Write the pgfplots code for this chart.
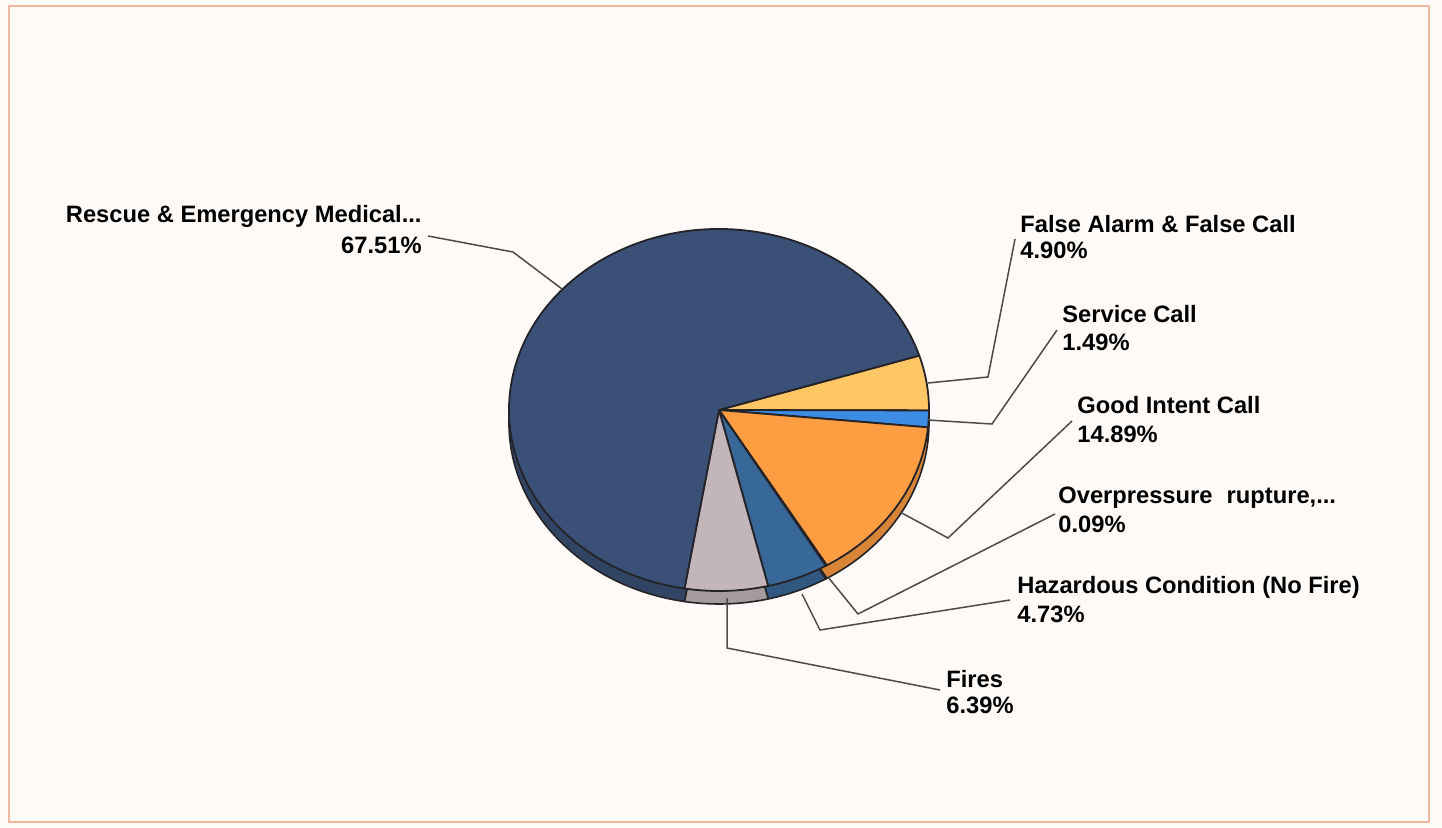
\documentclass[border=0pt]{standalone}
\usepackage{pgfplots}
\pgfplotsset{compat=1.18}
\usepackage{pgfplotstable}
\usepackage{fontspec}
\setmainfont{Liberation Sans}

\definecolor{bgc}{RGB}{253,250,247}
\definecolor{framec}{RGB}{240,184,160}
\definecolor{pieline}{RGB}{35,35,40}
\definecolor{leader}{RGB}{75,75,75}
% slice colours, clockwise from the first slice
\definecolor{slice0}{RGB}{255,198,102}% False Alarm
\definecolor{slice1}{RGB}{60,140,228}% Service Call
\definecolor{slice2}{RGB}{255,157,66}% Good Intent
\definecolor{slice3}{RGB}{170,60,60}% Overpressure
\definecolor{slice4}{RGB}{56,104,152}% Hazardous
\definecolor{slice5}{RGB}{194,182,186}% Fires
\definecolor{slice6}{RGB}{59,80,118}% Rescue & EMS

\pgfplotstableread{
value
4.90
1.49
14.89
0.09
4.73
6.39
67.51
}\piedata

\newcommand\lbl{\bfseries\fontsize{11.85}{14}\selectfont}

% cumulative slice angles (clockwise, starting at 17.5 deg)
\xdef\acc{17.5}%
\foreach \i in {0,...,6}{%
  \pgfplotstablegetelem{\i}{value}\of\piedata
  \pgfmathsetmacro\tmp{\acc-3.6*\pgfplotsretval}%
  \expandafter\xdef\csname sA\i\endcsname{\acc}%
  \expandafter\xdef\csname sB\i\endcsname{\tmp}%
  \xdef\acc{\tmp}%
}%

\begin{document}%
\begin{tikzpicture}
\begin{axis}[
  hide axis, scale only axis,
  width=721pt, height=413.5pt,
  xmin=0, xmax=1442, ymin=0, ymax=827,
  clip=false,
]
% background and frame
\fill[bgc] (axis cs:0,0) rectangle (axis cs:1442,827);
\draw[framec, line width=1pt] (axis cs:9,5) rectangle (axis cs:1429,821);

% side of the 3D pie (shifted slices)
\pgfplotsinvokeforeach{0,...,6}{
  \filldraw[fill=slice#1!85!black, draw=pieline, line width=0.8pt, line join=round]
    (axis cs:719,404) -- ++(\csname sA#1\endcsname:105pt and 90.5pt)
    arc[start angle=\csname sA#1\endcsname, end angle=\csname sB#1\endcsname, x radius=105pt, y radius=90.5pt] -- cycle;
}
% top face
\pgfplotsinvokeforeach{0,...,6}{
  \filldraw[fill=slice#1, draw=pieline, line width=0.9pt, line join=round]
    (axis cs:719,417) -- ++(\csname sA#1\endcsname:105pt and 90.5pt)
    arc[start angle=\csname sA#1\endcsname, end angle=\csname sB#1\endcsname, x radius=105pt, y radius=90.5pt] -- cycle;
}

% leader lines
\begin{scope}[leader, line width=0.75pt]
\draw (axis cs:428,591) -- (axis cs:513,575) -- (axis cs:562,538);
\draw (axis cs:928,444) -- (axis cs:988,450) -- (axis cs:1015,588);
\draw (axis cs:928,407) -- (axis cs:992,403) -- (axis cs:1057,497);
\draw (axis cs:900,315) -- (axis cs:948,289) -- (axis cs:1072,406);
\draw (axis cs:828,250) -- (axis cs:858,213) -- (axis cs:1055,313);
\draw (axis cs:802,233) -- (axis cs:820,197) -- (axis cs:1010,227);
\draw (axis cs:727,229) -- (axis cs:727,179) -- (axis cs:940,137);
\end{scope}

% labels
\begin{scope}[every node/.style={inner sep=0pt, font=\lbl, text=black}]
\node[anchor=base east] at (axis cs:422,605) {Rescue \& Emergency Medical...};
\node[anchor=base east] at (axis cs:422,574) {67.51\%};
\node[anchor=base west] at (axis cs:1020,595) {False Alarm \& False Call};
\node[anchor=base west] at (axis cs:1020,569) {4.90\%};
\node[anchor=base west] at (axis cs:1062,505) {Service Call};
\node[anchor=base west] at (axis cs:1062,477) {1.49\%};
\node[anchor=base west] at (axis cs:1077,414) {Good Intent Call};
\node[anchor=base west] at (axis cs:1077,385) {14.89\%};
\node[anchor=base west] at (axis cs:1058,324) {Overpressure\hspace{0.6em}rupture,...};
\node[anchor=base west] at (axis cs:1058,295) {0.09\%};
\node[anchor=base west] at (axis cs:1017,234) {Hazardous Condition (No Fire)};
\node[anchor=base west] at (axis cs:1017,205) {4.73\%};
\node[anchor=base west] at (axis cs:946,140) {Fires};
\node[anchor=base west] at (axis cs:946,114) {6.39\%};
\end{scope}
\end{axis}
\end{tikzpicture}%
\end{document}
